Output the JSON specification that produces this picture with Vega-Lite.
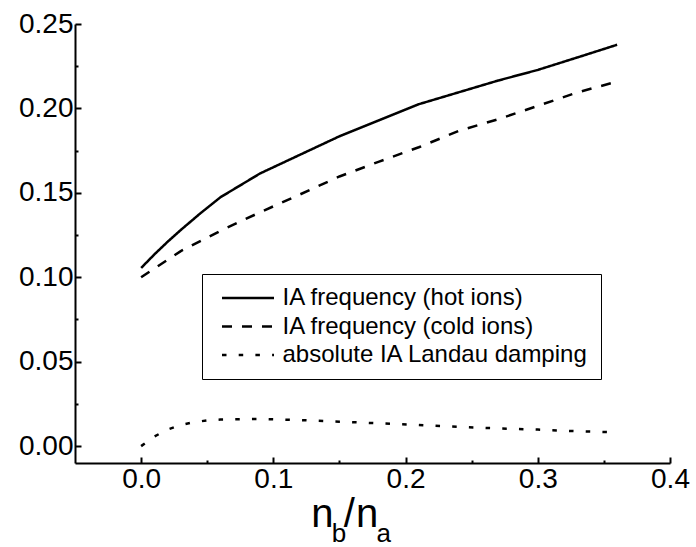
{
  "$schema": "https://vega.github.io/schema/vega-lite/v6.json",
  "width": 595,
  "height": 439,
  "autosize": "none",
  "padding": {"left": 75, "top": 24, "right": 26, "bottom": 84},
  "background": "white",
  "config": {
    "font": "Liberation Sans",
    "view": {"stroke": null},
    "axis": {"grid": false, "domainColor": "black", "domainWidth": 2, "tickColor": "black", "tickWidth": 2, "labelColor": "black", "labelFont": "Liberation Sans", "labelFontSize": 28}
  },
  "layer": [
    {
      "data": {"values": [
        {"x": 0.0, "y": 0.1055, "s": "IA frequency (hot ions)"},
        {"x": 0.01, "y": 0.1135, "s": "IA frequency (hot ions)"},
        {"x": 0.02, "y": 0.121, "s": "IA frequency (hot ions)"},
        {"x": 0.03, "y": 0.128, "s": "IA frequency (hot ions)"},
        {"x": 0.045, "y": 0.138, "s": "IA frequency (hot ions)"},
        {"x": 0.06, "y": 0.1474, "s": "IA frequency (hot ions)"},
        {"x": 0.09, "y": 0.1615, "s": "IA frequency (hot ions)"},
        {"x": 0.12, "y": 0.1725, "s": "IA frequency (hot ions)"},
        {"x": 0.15, "y": 0.1835, "s": "IA frequency (hot ions)"},
        {"x": 0.18, "y": 0.193, "s": "IA frequency (hot ions)"},
        {"x": 0.21, "y": 0.2025, "s": "IA frequency (hot ions)"},
        {"x": 0.24, "y": 0.2095, "s": "IA frequency (hot ions)"},
        {"x": 0.27, "y": 0.2165, "s": "IA frequency (hot ions)"},
        {"x": 0.3, "y": 0.2228, "s": "IA frequency (hot ions)"},
        {"x": 0.33, "y": 0.2302, "s": "IA frequency (hot ions)"},
        {"x": 0.36, "y": 0.2377, "s": "IA frequency (hot ions)"},
        {"x": 0.0, "y": 0.1, "s": "IA frequency (cold ions)"},
        {"x": 0.03, "y": 0.1155, "s": "IA frequency (cold ions)"},
        {"x": 0.06, "y": 0.1275, "s": "IA frequency (cold ions)"},
        {"x": 0.09, "y": 0.1385, "s": "IA frequency (cold ions)"},
        {"x": 0.12, "y": 0.149, "s": "IA frequency (cold ions)"},
        {"x": 0.15, "y": 0.1597, "s": "IA frequency (cold ions)"},
        {"x": 0.18, "y": 0.1685, "s": "IA frequency (cold ions)"},
        {"x": 0.21, "y": 0.177, "s": "IA frequency (cold ions)"},
        {"x": 0.24, "y": 0.1866, "s": "IA frequency (cold ions)"},
        {"x": 0.27, "y": 0.1936, "s": "IA frequency (cold ions)"},
        {"x": 0.3, "y": 0.2015, "s": "IA frequency (cold ions)"},
        {"x": 0.33, "y": 0.2095, "s": "IA frequency (cold ions)"},
        {"x": 0.36, "y": 0.2159, "s": "IA frequency (cold ions)"},
        {"x": 0.0, "y": 0.0, "s": "absolute IA Landau damping"},
        {"x": 0.01, "y": 0.0057, "s": "absolute IA Landau damping"},
        {"x": 0.02, "y": 0.0098, "s": "absolute IA Landau damping"},
        {"x": 0.03, "y": 0.0125, "s": "absolute IA Landau damping"},
        {"x": 0.04, "y": 0.0142, "s": "absolute IA Landau damping"},
        {"x": 0.05, "y": 0.0152, "s": "absolute IA Landau damping"},
        {"x": 0.06, "y": 0.0157, "s": "absolute IA Landau damping"},
        {"x": 0.09, "y": 0.0161, "s": "absolute IA Landau damping"},
        {"x": 0.12, "y": 0.0154, "s": "absolute IA Landau damping"},
        {"x": 0.15, "y": 0.0145, "s": "absolute IA Landau damping"},
        {"x": 0.18, "y": 0.0135, "s": "absolute IA Landau damping"},
        {"x": 0.21, "y": 0.0125, "s": "absolute IA Landau damping"},
        {"x": 0.24, "y": 0.0114, "s": "absolute IA Landau damping"},
        {"x": 0.27, "y": 0.0105, "s": "absolute IA Landau damping"},
        {"x": 0.3, "y": 0.0098, "s": "absolute IA Landau damping"},
        {"x": 0.33, "y": 0.0088, "s": "absolute IA Landau damping"},
        {"x": 0.36, "y": 0.0082, "s": "absolute IA Landau damping"}
      ]},
      "mark": {"type": "line", "color": "black", "clip": false},
      "encoding": {
        "x": {"field": "x", "type": "quantitative", "title": null,
          "scale": {"domain": [-0.05, 0.4], "nice": false, "zero": false},
          "axis": {
            "values": [0, 0.05, 0.1, 0.15, 0.2, 0.25, 0.3, 0.35, 0.4],
            "tickSize": {"condition": {"test": "abs(datum.value*10 - round(datum.value*10)) < 0.000001", "value": -6}, "value": -3},
            "labelExpr": "abs(datum.value*10 - round(datum.value*10)) < 0.000001 ? format(datum.value, '.1f') : ''",
            "labelPadding": 8, "labelOverlap": false, "labelFlush": false, "labelBound": false
          }
        },
        "y": {"field": "y", "type": "quantitative", "title": null,
          "scale": {"domain": [-0.01, 0.25], "nice": false, "zero": false},
          "axis": {
            "values": [0, 0.025, 0.05, 0.075, 0.1, 0.125, 0.15, 0.175, 0.2, 0.225, 0.25],
            "tickSize": {"condition": {"test": "abs(datum.value*20 - round(datum.value*20)) < 0.000001", "value": -6}, "value": -3},
            "labelExpr": "abs(datum.value*20 - round(datum.value*20)) < 0.000001 ? format(datum.value, '.2f') : ''",
            "labelPadding": 8, "labelOverlap": false, "labelFlush": false, "labelBound": false
          }
        },
        "strokeWidth": {"field": "s", "type": "nominal",
          "scale": {"domain": ["IA frequency (hot ions)", "IA frequency (cold ions)", "absolute IA Landau damping"], "range": [2.5, 2.5, 3.5]},
          "legend": null
        },
        "strokeDash": {"field": "s", "type": "nominal",
          "scale": {"domain": ["IA frequency (hot ions)", "IA frequency (cold ions)", "absolute IA Landau damping"], "range": [[1, 0], [10, 10], [4.5, 12.2]]},
          "legend": {
            "title": null, "orient": "none", "legendX": 127, "legendY": 250,
            "strokeColor": "black", "fillColor": "white", "padding": 12,
            "symbolType": "M-4,0H4", "symbolSize": 169, "symbolStrokeWidth": 2.5, "symbolStrokeColor": "black", "symbolOffset": 22,
            "labelFont": "Liberation Sans", "labelFontSize": 24, "labelColor": "black", "labelOffset": 22.5, "labelLimit": 400,
            "labelExpr": "datum.label == 'absolute IA Landau damping' ? datum.label + '\u00a0\u00a0\u00a0' : datum.label",
            "rowPadding": 4.5
          }
        }
      }
    },
    {"data": {"values": [{}]}, "mark": {"type": "text", "text": "n", "font": "Liberation Sans", "fontSize": 40, "align": "left", "baseline": "alphabetic", "color": "black"},
      "encoding": {"x": {"datum": 0.1287, "type": "quantitative"}, "y": {"datum": -0.048, "type": "quantitative"}}},
    {"data": {"values": [{}]}, "mark": {"type": "text", "text": "b", "font": "Liberation Sans", "fontSize": 26, "align": "left", "baseline": "alphabetic", "color": "black"},
      "encoding": {"x": {"datum": 0.1442, "type": "quantitative"}, "y": {"datum": -0.057, "type": "quantitative"}}},
    {"data": {"values": [{}]}, "mark": {"type": "text", "text": "/", "font": "Liberation Sans", "fontSize": 40, "align": "left", "baseline": "alphabetic", "color": "black"},
      "encoding": {"x": {"datum": 0.1532, "type": "quantitative"}, "y": {"datum": -0.048, "type": "quantitative"}}},
    {"data": {"values": [{}]}, "mark": {"type": "text", "text": "n", "font": "Liberation Sans", "fontSize": 40, "align": "left", "baseline": "alphabetic", "color": "black"},
      "encoding": {"x": {"datum": 0.1626, "type": "quantitative"}, "y": {"datum": -0.048, "type": "quantitative"}}},
    {"data": {"values": [{}]}, "mark": {"type": "text", "text": "a", "font": "Liberation Sans", "fontSize": 26, "align": "left", "baseline": "alphabetic", "color": "black"},
      "encoding": {"x": {"datum": 0.1781, "type": "quantitative"}, "y": {"datum": -0.057, "type": "quantitative"}}}
  ]
}
